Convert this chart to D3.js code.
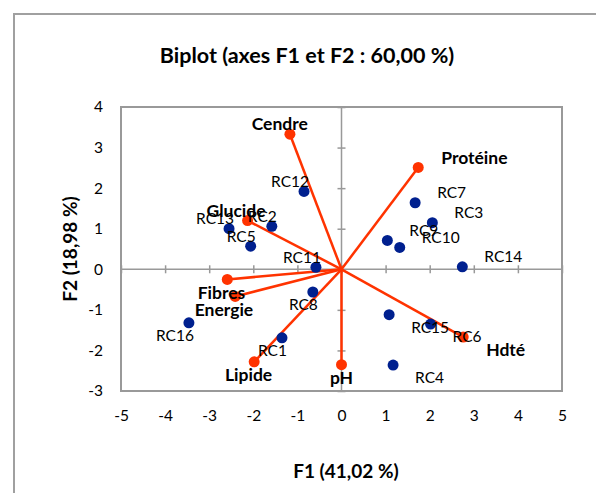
<!DOCTYPE html>
<html>
<head>
<meta charset="utf-8">
<script src="https://cdn.jsdelivr.net/npm/d3@7"></script>
<style>
  body { margin: 0; background: #fff; }
  svg { font-family: Lato, "Open Sans", sans-serif; }
</style>
</head>
<body>
<div id="chart"></div>
<script>
// Observations (blue points)
const obsNames = ["RC1", "RC2", "RC3", "RC4", "RC5", "RC6", "RC7", "RC8",
                  "RC9", "RC10", "RC11", "RC12", "RC13", "RC14", "RC15", "RC16"];
const obsF1 = [-1.35, -1.58, 2.06, 1.17, -2.06, 2.02, 1.67, -0.65,
               1.04, 1.32, -0.58, -0.85, -2.55, 2.74, 1.08, -3.46];
const obsF2 = [-1.69, 1.06, 1.15, -2.36, 0.57, -1.35, 1.64, -0.56,
               0.71, 0.54, 0.05, 1.92, 1.00, 0.06, -1.12, -1.32];

// Variables (red vectors)
const varNames = ["Cendre", "Protéine", "Glucide", "Fibres", "Energie", "Lipide", "pH", "Hdté"];
const varF1 = [-1.17, 1.74, -2.13, -2.59, -2.41, -1.98, 0.00, 2.76];
const varF2 = [3.33, 2.51, 1.20, -0.25, -0.67, -2.28, -2.35, -1.67];

const xTicks = [-5, -4, -3, -2, -1, 0, 1, 2, 3, 4, 5];
const yTicks = [-3, -2, -1, 0, 1, 2, 3, 4];

const titleText = "Biplot (axes F1 et F2 : 60,00 %)";
const xTitle = "F1 (41,02 %)";
const yTitle = "F2 (18,98 %)";

const W = 596, H = 493;
const margin = { top: 107, right: 34, bottom: 102, left: 121 };
const width = W - margin.left - margin.right;
const height = H - margin.top - margin.bottom;

const blue = "#00208f";
const red = "#ff3300";
const gray = "#a0a0a0";

const svg = d3.select("#chart").append("svg")
    .attr("width", W)
    .attr("height", H);

// outer chart frame
svg.append("rect")
    .attr("x", 14).attr("y", 14)
    .attr("width", W).attr("height", H)
    .attr("fill", "none")
    .attr("stroke", gray)
    .attr("stroke-width", 2);

svg.append("text")
    .attr("x", 307).attr("y", 63)
    .attr("text-anchor", "middle")
    .attr("font-weight", "bold")
    .attr("font-size", 21.5)
    .text(titleText);

const g = svg.append("g")
    .attr("transform", `translate(${margin.left},${margin.top})`);

const x = d3.scaleLinear().domain([-5, 5]).range([0, width]);
const y = d3.scaleLinear().domain([-3, 4]).range([height, 0]);

// plot area border
g.append("rect")
    .attr("width", width).attr("height", height)
    .attr("fill", "none")
    .attr("stroke", "#999")
    .attr("stroke-width", 2);

// zero axes with crossing ticks
const xZero = g.append("g")
    .attr("transform", `translate(0,${y(0)})`)
    .call(d3.axisBottom(x).tickValues(xTicks).tickSize(8).tickFormat(""));
xZero.selectAll(".tick line").attr("y1", -4).attr("y2", 4);

const yZero = g.append("g")
    .attr("transform", `translate(${x(0)},0)`)
    .call(d3.axisLeft(y).tickValues(yTicks).tickSize(8).tickFormat(""));
yZero.selectAll(".tick line").attr("x1", -4).attr("x2", 4);

[xZero, yZero].forEach(a => {
    a.selectAll("path, line").attr("stroke", "#999").attr("stroke-width", 1.5);
});
xZero.select(".domain").attr("d", `M0,0H${width}`);
yZero.select(".domain").attr("d", `M0,0V${height}`);

// tick labels outside plot area (plain hyphen for negatives)
const fmt = d => String(d);
const xLab = g.append("g")
    .attr("transform", `translate(0,${height})`)
    .call(d3.axisBottom(x).tickValues(xTicks).tickSize(0).tickPadding(19).tickFormat(fmt));
const yLab = g.append("g")
    .call(d3.axisLeft(y).tickValues(yTicks).tickSize(0).tickPadding(18).tickFormat(fmt));
[xLab, yLab].forEach(a => {
    a.select(".domain").remove();
    a.selectAll("text")
        .attr("font-family", "Lato, sans-serif")
        .attr("font-size", 15.5)
        .attr("fill", "#000");
});

// axis titles
svg.append("text")
    .attr("x", 346).attr("y", 478)
    .attr("text-anchor", "middle")
    .attr("font-weight", "bold")
    .attr("font-size", 19)
    .text(xTitle);

svg.append("text")
    .attr("transform", "translate(77,249) rotate(-90)")
    .attr("text-anchor", "middle")
    .attr("font-weight", "bold")
    .attr("font-size", 19)
    .text(yTitle);

const obs = obsNames.map((n, i) => ({ name: n, f1: obsF1[i], f2: obsF2[i] }));
const vars = varNames.map((n, i) => ({ name: n, f1: varF1[i], f2: varF2[i] }));

// vectors
g.selectAll(".vec")
    .data(vars)
    .enter().append("line")
    .attr("class", "vec")
    .attr("x1", x(0)).attr("y1", y(0))
    .attr("x2", d => x(d.f1))
    .attr("y2", d => y(d.f2))
    .attr("stroke", red)
    .attr("stroke-width", 2.5);

g.selectAll(".vpt")
    .data(vars)
    .enter().append("circle")
    .attr("class", "vpt")
    .attr("cx", d => x(d.f1))
    .attr("cy", d => y(d.f2))
    .attr("r", 5.5)
    .attr("fill", red);

g.selectAll(".opt")
    .data(obs)
    .enter().append("circle")
    .attr("class", "opt")
    .attr("cx", d => x(d.f1))
    .attr("cy", d => y(d.f2))
    .attr("r", 5.5)
    .attr("fill", blue);

// label placement: right of the point on the positive side, left otherwise
function anchor(d) {
    if (d.f1 > 0) return "start";
    if (d.f1 < 0) return "end";
    return "middle";
}

g.selectAll(".olab")
    .data(obs)
    .enter().append("text")
    .attr("class", "olab")
    .attr("x", d => x(d.f1) + (d.f1 > 0 ? 22 : 5))
    .attr("y", d => y(d.f2) + (d.f2 > 0 ? -10 : 13))
    .attr("dy", "0.35em")
    .attr("text-anchor", anchor)
    .attr("font-size", 15.5)
    .text(d => d.name);

g.selectAll(".vlab")
    .data(vars)
    .enter().append("text")
    .attr("class", "vlab")
    .attr("x", d => x(d.f1) + (d.f1 > 0 ? 23 : d.f1 < 0 ? 18 : 0))
    .attr("y", d => y(d.f2) + (d.f2 > 0 ? -10 : 13))
    .attr("dy", "0.35em")
    .attr("text-anchor", anchor)
    .attr("font-weight", "bold")
    .attr("font-size", 17.5)
    .text(d => d.name);
</script>
</body>
</html>
